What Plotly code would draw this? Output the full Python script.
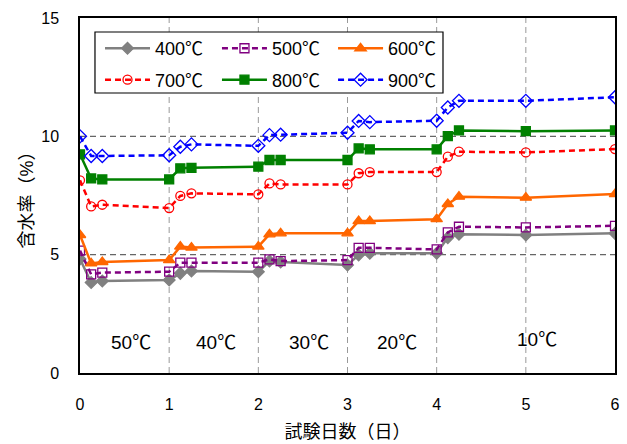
import plotly.graph_objects as go

days = [0, 0.125, 0.25, 1, 1.125, 1.25, 2, 2.125, 2.25, 3, 3.125, 3.25, 4, 4.125, 4.25, 5, 6]

s400 = [4.82, 3.82, 3.89, 3.93, 4.21, 4.31, 4.28, 4.73, 4.69, 4.56, 4.99, 5.06, 5.06, 5.72, 5.86, 5.83, 5.90]
s500 = [5.17, 4.17, 4.24, 4.28, 4.66, 4.66, 4.66, 4.80, 4.73, 4.77, 5.29, 5.29, 5.22, 5.94, 6.18, 6.15, 6.22]
s600 = [5.83, 4.63, 4.69, 4.77, 5.34, 5.30, 5.34, 5.86, 5.90, 5.90, 6.42, 6.42, 6.50, 7.14, 7.45, 7.41, 7.56]
s700 = [8.14, 7.04, 7.11, 6.97, 7.48, 7.59, 7.55, 8.01, 7.97, 7.97, 8.44, 8.49, 8.49, 9.14, 9.35, 9.32, 9.46]
s800 = [9.24, 8.22, 8.18, 8.18, 8.65, 8.67, 8.72, 9.00, 9.00, 9.00, 9.49, 9.45, 9.45, 10.01, 10.25, 10.22, 10.25]
s900 = [10.00, 9.17, 9.17, 9.20, 9.56, 9.66, 9.60, 10.05, 10.07, 10.15, 10.65, 10.60, 10.66, 11.22, 11.50, 11.50, 11.65]

series_names = ["400℃", "500℃", "600℃", "700℃", "800℃", "900℃"]
stage_labels = ["50℃", "40℃", "30℃", "20℃", "10℃"]
stage_x = [0.57, 1.53, 2.57, 3.55, 5.12]
stage_y = [1.3, 1.3, 1.3, 1.3, 1.4]

styles = [
    dict(color="#808080", dash="solid", symbol="diamond", size=9),
    dict(color="#800080", dash="6px,4px", symbol="square-open", size=9),
    dict(color="#FF6600", dash="solid", symbol="triangle-up", size=10),
    dict(color="#FF0000", dash="6px,4px", symbol="circle-open", size=9),
    dict(color="#008000", dash="solid", symbol="square", size=9),
    dict(color="#0000FF", dash="6px,4px", symbol="diamond-open", size=10),
]
legend_ids = ["legend", "legend2", "legend3", "legend", "legend2", "legend3"]

FONT = "Liberation Sans, Noto Sans CJK JP, sans-serif"

fig = go.Figure()
for name, ys, st, lg in zip(series_names, [s400, s500, s600, s700, s800, s900], styles, legend_ids):
    fig.add_trace(go.Scatter(
        x=days, y=ys, name=name, mode="lines+markers", legend=lg, legendgroup=name,
        line=dict(color=st["color"], width=2.5, dash=st["dash"]),
        marker=dict(symbol=st["symbol"], size=st["size"], color=st["color"],
                    line=dict(color=st["color"], width=1.3)),
    ))

for i in range(1, 6):
    fig.add_shape(type="line", x0=i, x1=i, y0=0, y1=15, xref="x", yref="y",
                  line=dict(color="#999999", width=1, dash="6px,4px"), layer="below")
for v in [5, 10]:
    fig.add_shape(type="line", x0=0, x1=6, y0=v, y1=v, xref="x", yref="y",
                  line=dict(color="#666666", width=1.3, dash="6px,4px"), layer="below")

# legend frame
fig.add_shape(type="rect", xref="paper", yref="paper", x0=0.028, x1=0.6785, y0=0.7887, y1=0.9606,
              line=dict(color="#000000", width=1.2), fillcolor="white", layer="above")

for t, xx, yy in zip(stage_labels, stage_x, stage_y):
    fig.add_annotation(x=xx, y=yy, text=t, showarrow=False,
                       font=dict(size=19, color="#000000", family=FONT))

leg_common = dict(
    orientation="v", xanchor="left", yanchor="top", y=0.966,
    bgcolor="rgba(0,0,0,0)", borderwidth=0, font=dict(size=18, family=FONT, color="#000000"),
    itemwidth=45, tracegroupgap=5,
)

fig.update_layout(
    width=627, height=444,
    margin=dict(l=80, r=12, t=18, b=71, autoexpand=False),
    paper_bgcolor="white", plot_bgcolor="white",
    font=dict(family=FONT, size=16, color="#000000"),
    showlegend=True,
    legend=dict(x=0.0374, **leg_common),
    legend2=dict(x=0.256, **leg_common),
    legend3=dict(x=0.473, **leg_common),
    xaxis=dict(
        range=[0, 6], tickvals=[0, 1, 2, 3, 4, 5, 6], showgrid=False, zeroline=False,
        showline=True, linecolor="#000000", linewidth=1.5, mirror=True, automargin=False,
        ticks="", ticklabelstandoff=16,
        title=dict(text="試験日数（日）", font=dict(size=18), standoff=13),
    ),
    yaxis=dict(
        range=[0, 15], tickvals=[0, 5, 10, 15], showgrid=False, zeroline=False,
        showline=True, linecolor="#000000", linewidth=1.5, mirror=True, automargin=False,
        ticks="", ticklabelstandoff=16,
        title=dict(text="含水率（%）", font=dict(size=18), standoff=3),
    ),
)

fig.write_html("out.html", post_script="document.body.style.margin='0';",
               config={"displayModeBar": False})
